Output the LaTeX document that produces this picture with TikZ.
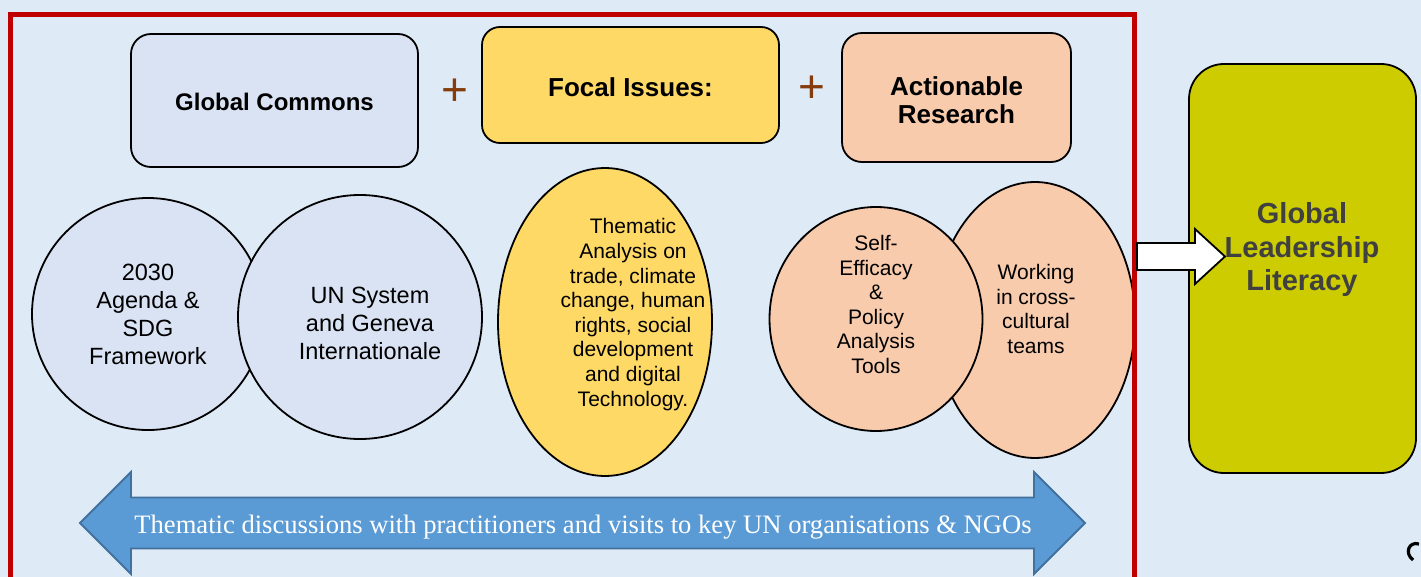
\documentclass[tikz,border=0pt]{standalone}
\usepackage{fontspec}
\setmainfont{Liberation Sans}
\newfontfamily\serifft{Liberation Serif}
\usetikzlibrary{shapes.geometric}
\definecolor{bgblue}{RGB}{222,234,246}
\definecolor{gcblue}{RGB}{218,227,243}
\definecolor{focalyel}{RGB}{255,217,102}
\definecolor{peach}{RGB}{248,203,173}
\definecolor{glgreen}{RGB}{204,204,0}
\definecolor{arrblue}{RGB}{91,155,213}
\definecolor{arrborder}{RGB}{65,113,156}
\definecolor{plusbrown}{RGB}{132,60,12}
\definecolor{frame}{RGB}{192,0,0}
\definecolor{gltext}{RGB}{64,64,64}
\tikzset{
  box/.style={draw=black, line width=1.8, rounded corners=20, inner sep=0, align=center},
  bubble/.style={draw=black, line width=1.8, inner sep=0},
  boxlabel/.style={inner sep=0, align=center},
  txt/.style={align=center, inner sep=0, font=\fontsize{23.5}{28}\selectfont},
  smalltxt/.style={align=center, inner sep=0, font=\fontsize{21}{24.6}\selectfont},
  plussign/.style={inner sep=0, text=plusbrown, font=\fontsize{46}{46}\selectfont},
}
\begin{document}
\begin{tikzpicture}[x=1pt,y=-1pt]
\useasboundingbox (0,0) rectangle (1421,577);
\clip (0,0) rectangle (1421,577);
\fill[bgblue] (0,0) rectangle (1421,577);
% top boxes
\node[box, fill=gcblue, minimum width=287, minimum height=133] (gc) at (274.5,100.5) {};
\node[boxlabel, font=\fontsize{24}{28}\selectfont\bfseries] (gct) at (274.5,102) {Global Commons};
\node[box, fill=focalyel, rounded corners=18, minimum width=297, minimum height=116] (fi) at (630.5,85) {};
\node[boxlabel, font=\fontsize{26}{28}\selectfont\bfseries] (fit) at (630.5,87.5) {Focal Issues:};
\node[box, fill=peach, minimum width=229, minimum height=129] (ar) at (956.5,97.5) {};
\node[boxlabel, font=\fontsize{26}{28}\selectfont\bfseries] (art) at (956.5,100) {Actionable\\Research};
\node[plussign] (p1) at (455,92) {+};
\node[plussign] (p2) at (812,89) {+};
% circles
\node[bubble, circle, fill=gcblue, minimum size=232] (c1) at (148,314) {};
\node[bubble, circle, fill=gcblue, minimum size=244] (c2) at (360,317) {};
\node[txt] (t1) at (148,314.5) {2030\\Agenda \&\\SDG\\Framework};
\node[txt] (t2) at (370,323) {UN System\\and Geneva\\Internationale};
\node[bubble, ellipse, fill=focalyel, minimum width=214, minimum height=308] (e1) at (605,322) {};
\node[smalltxt] (t3) at (633,314.5) {Thematic\\Analysis on\\trade, climate\\change, human\\rights, social\\development\\and digital\\Technology.};
\node[bubble, ellipse, fill=peach, minimum width=200, minimum height=276] (e3) at (1035,320) {};
\node[bubble, ellipse, fill=peach, minimum width=213, minimum height=224] (e2) at (876,319) {};
\node[smalltxt] (t4) at (876,304.5) {Self-\\Efficacy\\\&\\Policy\\Analysis\\Tools};
\node[smalltxt] (t5) at (1036,309) {Working\\in cross-\\cultural\\teams};
% frame
\draw[frame, line width=5] (10.5,620) -- (10.5,14.5) -- (1134.5,14.5) -- (1134.5,620);
% global leadership literacy
\node[box, fill=glgreen, rounded corners=35, minimum width=227, minimum height=409] (gl) at (1302.5,268.5) {};
\node[inner sep=0, align=center, text=gltext, font=\fontsize{29}{33.5}\selectfont\bfseries] (glt) at (1302,250) {Global\\Leadership\\Literacy};
% white block arrow
\coordinate (wa) at (1137,256.5);
\draw[black, line width=1.8, fill=white, line join=miter]
  (wa) ++(0,-13.5) -- (1195,243) -- (1195,229) -- (1225,256.5) -- (1195,284) -- (1195,270) -- (1137,270) -- cycle;
% blue double arrow
\draw[arrborder, line width=1.8, fill=arrblue, line join=miter]
  (80,523) -- (131,472) -- (131,497.5) -- (1034,497.5) -- (1034,472) -- (1085,523)
  -- (1034,574) -- (1034,548.5) -- (131,548.5) -- (131,574) -- cycle;
\node[inner sep=0, text=white, font=\serifft\fontsize{26.6}{30}\selectfont] (bt) at (583,527)
  {Thematic discussions with practitioners and visits to key UN organisations \& NGOs};
% partial glyph at corner
\draw[black, line width=3.2] (1419,544) .. controls (1409,541) and (1404,553) .. (1413,560);
\end{tikzpicture}
\end{document}
